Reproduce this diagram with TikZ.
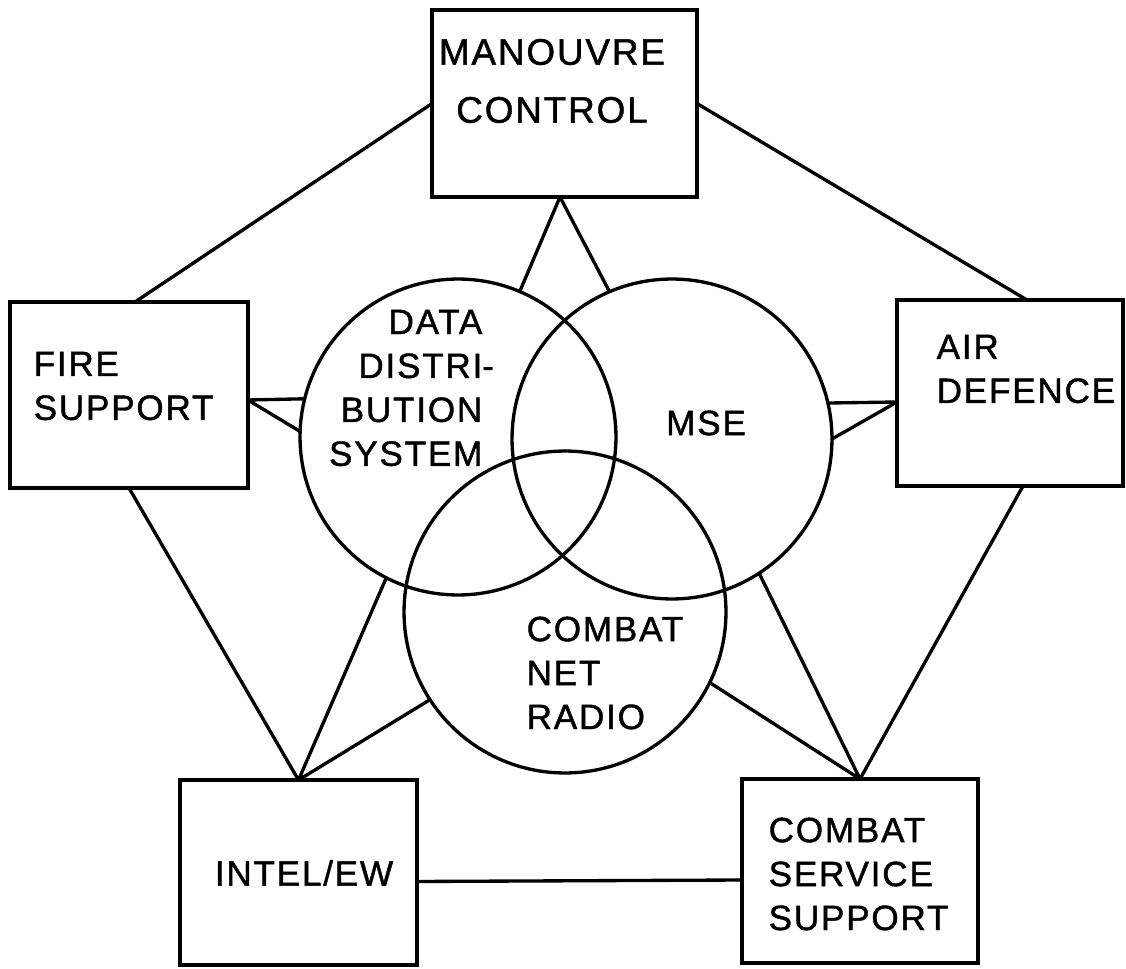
\documentclass[tikz,border=0pt]{standalone}
\usepackage{fontspec}
\setmainfont{Liberation Sans}[LetterSpace=5,FakeBold=1.2]
\usetikzlibrary{calc}
\begin{document}
\begin{tikzpicture}[x=0.02cm,y=-0.02cm, line width=1.9pt,
  box/.style={draw, rectangle, inner sep=0pt, outer sep=0pt},
  ring/.style={draw, circle, inner sep=0pt, outer sep=0pt},
  lbl/.style={font=\fontsize{20}{25}\selectfont, inner sep=0pt},
  link/.style={line cap=round, line join=round}]
\useasboundingbox (0,0) rectangle (1126,969);
% boxes
\node[box, minimum width=5.3cm, minimum height=3.74cm] (mc) at (564.5,103.5) {};
\node[box, minimum width=4.76cm, minimum height=3.72cm] (fs) at (129,395) {};
\node[box, minimum width=4.52cm, minimum height=3.72cm] (ad) at (1010,393) {};
\node[box, minimum width=4.74cm, minimum height=3.7cm] (intel) at (298.5,872.5) {};
\node[box, minimum width=4.72cm, minimum height=3.68cm] (css) at (860,871) {};
% circles
\node[ring, minimum size=6.32cm] (dds) at (458,437) {};
\node[ring, minimum size=6.4cm] (mse) at (672,439) {};
\node[ring, minimum size=6.44cm] (cnr) at (565,612) {};
% labels
\node[lbl, align=center, font=\fontsize{21}{33}\selectfont] (mct) at (552,81) {MANOUVRE\\CONTROL};
\node[lbl, align=left, anchor=west] (fst) at (32,386) {FIRE\\SUPPORT};
\node[lbl, align=left, anchor=west] (adt) at (935,369) {AIR\\DEFENCE};
\node[lbl] (intelt) at (304,873) {INTEL/EW};
\node[lbl, align=left, anchor=west] (csst) at (767,874) {COMBAT\\SERVICE\\SUPPORT};
\node[lbl, align=right, anchor=east] (ddst) at (484,388) {DATA\\DISTRI\rlap{-}\\BUTION\\SYSTEM};
\node[lbl] (mset) at (706,423) {MSE};
\node[lbl, align=left, anchor=west] (cnrt) at (525,673) {COMBAT\\NET\\RADIO};
% connectors
\draw[link] (mc.west) -- ([xshift=0.12cm]fs.north);
\draw[link] (mc.east) -- ([xshift=0.34cm]ad.north);
\draw[link] (dds.67.8) -- ([xshift=-0.09cm]mc.south) -- (mse.113);
\draw[link] (dds.166.5) -- ([yshift=-0.1cm]fs.east) -- (dds.178.2);
\draw[link] (mse.13.7) -- ([yshift=-0.18cm]ad.west) -- (mse.0);
\draw[link] (fs.south) -- (intel.north);
\draw[link] (dds.243.7) -- (intel.north) -- (cnr.213.3);
\draw[link] ([xshift=0.26cm]ad.south) -- (css.north);
\draw[link] (mse.-57.7) -- (css.north) -- (cnr.-26.7);
\draw[link] ([yshift=-0.18cm]intel.east) -- ([yshift=-0.18cm]css.west);
\end{tikzpicture}
\end{document}
